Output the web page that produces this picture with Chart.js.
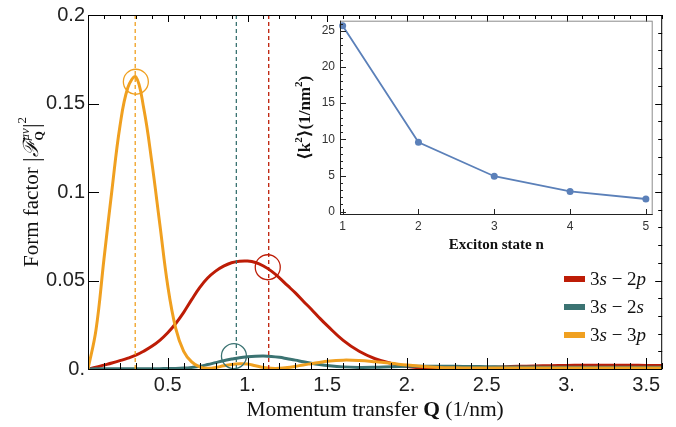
<!DOCTYPE html>
<html>
<head>
<meta charset="utf-8">
<script src="https://cdn.jsdelivr.net/npm/chart.js@4.4.0/dist/chart.umd.min.js"></script>
<style>
  body { margin: 0; background: #fff; }
  #wrap { position: relative; width: 676px; height: 427px; }
  #main { position: absolute; left: 0; top: 0; }
  #inset { position: absolute; left: 290px; top: 5px; }
</style>
</head>
<body>
<div id="wrap">
  <canvas id="main" width="676" height="427"></canvas>
  <canvas id="inset" width="380" height="255"></canvas>
</div>
<script>
// momentum transfer grid (1/nm)
const qGrid = [0, 0.05, 0.1, 0.15, 0.2, 0.25, 0.3, 0.35, 0.4, 0.45, 0.5, 0.55, 0.6, 0.65, 0.7, 0.75,
  0.8, 0.85, 0.9, 0.95, 1.0, 1.05, 1.1, 1.15, 1.2, 1.25, 1.3, 1.35, 1.4, 1.45, 1.5,
  1.6, 1.7, 1.8, 1.9, 2.0, 2.1, 2.2, 2.3, 2.4, 2.5, 2.6, 2.7, 2.8, 2.9, 3.0, 3.1, 3.2, 3.3, 3.4, 3.5, 3.6];

// form factor |F_Q|^2 for each transition
const ff3s2p = [0, 0.0010, 0.0022, 0.0034, 0.0047, 0.0061, 0.0078, 0.0101, 0.0128, 0.0162, 0.0205, 0.0257,
  0.0320, 0.0392, 0.0460, 0.0514, 0.0553, 0.0581, 0.0600, 0.0609, 0.0610, 0.0602, 0.0582, 0.0553, 0.0515,
  0.0472, 0.0430, 0.0383, 0.0338, 0.0290, 0.0245,
  0.0162, 0.0100, 0.0058, 0.0032, 0.0014, 0.0006, 0.0003, 0.0003, 0.0006, 0.0009, 0.0012, 0.0015, 0.0017,
  0.0019, 0.0020, 0.0021, 0.0021, 0.0021, 0.0021, 0.0020, 0.0020];
const ff3s2s = [0, 0.0001, 0.0001, 0.0002, 0.0002, 0.0002, 0.0002, 0.0002, 0.0002, 0.0002, 0.0003, 0.0003,
  0.0005, 0.0009, 0.0015, 0.0025, 0.0036, 0.0047, 0.0056, 0.0064, 0.0069, 0.0072, 0.0073, 0.0071, 0.0066,
  0.0058, 0.0050, 0.0041, 0.0033, 0.0026, 0.0020,
  0.0012, 0.0009, 0.0010, 0.0013, 0.0015, 0.0016, 0.0016, 0.0015, 0.0014, 0.0013, 0.0012, 0.0011, 0.0011,
  0.0010, 0.0010, 0.0010, 0.0010, 0.0010, 0.0010, 0.0010, 0.0010];
const ff3s3p = [0, 0.022, 0.062, 0.101, 0.137, 0.159, 0.165, 0.147, 0.117, 0.082, 0.047, 0.023,
  0.010, 0.004, 0.0012, 0.0004, 0.0008, 0.0018, 0.0026, 0.0030, 0.0028, 0.0018, 0.0009, 0.0004, 0.0004,
  0.0008, 0.0015, 0.0023, 0.0030, 0.0037, 0.0044,
  0.0050, 0.0048, 0.0041, 0.0032, 0.0022, 0.0014, 0.0009, 0.0007, 0.0006, 0.0006, 0.0006, 0.0006, 0.0006,
  0.0006, 0.0006, 0.0006, 0.0006, 0.0006, 0.0006, 0.0006, 0.0006];

// marked positions (dashed lines) and circled points
const markQ = [1.133, 0.93, 0.296];            // 3s-2p, 3s-2s, 3s-3p
const circleQ = [1.127, 0.915, 0.30];
const circleF = [0.0575, 0.0073, 0.1623];

const seriesNames = [["3", "s", " − ", "2", "p"], ["3", "s", " − ", "2", "s"], ["3", "s", " − ", "3", "p"]];
const colors = ["#bd1c06", "#3b7372", "#f0a020"];

// inset: <k^2> vs exciton state
const stateN = [1, 2, 3, 4, 5];
const k2 = [25.7, 9.6, 4.9, 2.8, 1.75];

const SERIF = '"Liberation Serif", "DejaVu Serif", serif';
const SANS = '"Liberation Sans", Arial, sans-serif';

function pts(xs, ys) { return xs.map((x, i) => ({ x: x, y: ys[i] })); }

// draw a run of text pieces; piece: {t, f, dy, stack}
function richWidth(ctx, pieces) {
  let w = 0, last = 0;
  pieces.forEach(p => {
    ctx.font = p.f;
    const pw = ctx.measureText(p.t).width;
    if (p.stack) { w += Math.max(0, pw - last); last = Math.max(pw, last); }
    else { w += pw; last = pw; }
  });
  return w;
}
function drawRich(ctx, pieces, x, y) {
  let cx = x, prevX = x, last = 0;
  pieces.forEach(p => {
    ctx.font = p.f;
    const pw = ctx.measureText(p.t).width;
    if (p.stack) {
      ctx.fillText(p.t, prevX, y + (p.dy || 0));
      cx = prevX + Math.max(pw, last);
      last = Math.max(pw, last);
    } else {
      ctx.fillText(p.t, cx, y + (p.dy || 0));
      prevX = cx; cx += pw; last = pw;
    }
  });
}
function drawRichCentered(ctx, pieces, x, y, rot) {
  ctx.save();
  ctx.translate(x, y);
  if (rot) ctx.rotate(rot);
  ctx.textAlign = 'left';
  ctx.textBaseline = 'alphabetic';
  drawRich(ctx, pieces, -richWidth(ctx, pieces) / 2, 0);
  ctx.restore();
}

function tickLine(ctx, x1, y1, x2, y2) { ctx.moveTo(x1, y1); ctx.lineTo(x2, y2); }

const mainDecor = {
  id: 'mainDecor',
  afterDatasetsDraw(chart) {
    const { ctx, chartArea: a, scales } = chart;
    ctx.save();
    ctx.strokeStyle = '#000';
    ctx.lineWidth = 1;
    ctx.strokeRect(a.left + 0.5, a.top + 0.5, a.right - a.left - 1, a.bottom - a.top);
    ctx.beginPath();
    for (let i = 1; i <= 36; i++) {
      const x = Math.round(scales.x.getPixelForValue(i / 10)) + 0.5;
      const major = i % 5 === 0;
      tickLine(ctx, x, a.bottom, x, a.bottom - (major ? 11 : 6));
      tickLine(ctx, x, a.top, x, a.top + (major ? 7 : 4));
    }
    for (let i = 1; i <= 20; i++) {
      const y = Math.round(scales.y.getPixelForValue(i / 100)) + 0.5;
      const major = i % 5 === 0;
      if (major) tickLine(ctx, a.left, y, a.left + 11, y);
      tickLine(ctx, a.right, y, a.right - (major ? 7 : 4), y);
    }
    ctx.stroke();
    ctx.restore();
  },
  afterDraw(chart) {
    const { ctx, chartArea: a } = chart;
    ctx.save();
    ctx.fillStyle = '#111';
    // axis titles
    const cx = (a.left + a.right) / 2;
    drawRichCentered(ctx, [
      { t: 'Momentum transfer ', f: '21.5px ' + SERIF },
      { t: 'Q', f: 'bold 21.5px ' + SERIF },
      { t: ' (1/nm)', f: '21.5px ' + SERIF }
    ], cx, 416);
    drawRichCentered(ctx, [
      { t: 'Form factor ', f: '21px ' + SERIF },
      { t: '|', f: '23px ' + SERIF, dy: 1 },
      { t: 'ℱ', f: 'italic 21px ' + SERIF },
      { t: 'μν', f: 'italic 13px ' + SERIF, dy: -9 },
      { t: 'Q', f: 'bold 12px ' + SERIF, dy: 5, stack: true },
      { t: '|', f: '23px ' + SERIF, dy: 1 },
      { t: '2', f: '13px ' + SERIF, dy: -12 }
    ], 38, (a.top + a.bottom) / 2, -Math.PI / 2);
    // legend
    const ly = [279, 307, 335];
    seriesNames.forEach((nm, i) => {
      ctx.fillStyle = colors[i];
      ctx.fillRect(564, ly[i] - 3, 21, 6);
      ctx.fillStyle = '#111';
      ctx.textAlign = 'left';
      ctx.textBaseline = 'alphabetic';
      drawRich(ctx, [
        { t: nm[0], f: '19px ' + SERIF },
        { t: nm[1], f: 'italic 19px ' + SERIF },
        { t: nm[2], f: '19px ' + SERIF },
        { t: nm[3], f: '19px ' + SERIF },
        { t: nm[4], f: 'italic 19px ' + SERIF }
      ], 590, ly[i] + 6);
    });
    ctx.restore();
  }
};

const curveSets = [ff3s2p, ff3s2s, ff3s3p].map((vals, i) => ({
  data: pts(qGrid, vals),
  borderColor: colors[i],
  borderWidth: 3,
  pointRadius: 0,
  tension: 0.4,
  fill: false,
  order: 3 - i
}));
const dashSets = markQ.map((q, i) => ({
  data: [{ x: q, y: 0 }, { x: q, y: 0.2 }],
  borderColor: colors[i],
  borderWidth: 1.3,
  borderDash: [4, 3],
  pointRadius: 0,
  fill: false,
  order: 0
}));
const circleSets = circleQ.map((q, i) => ({
  data: [{ x: q, y: circleF[i] }],
  showLine: false,
  pointRadius: 12.5,
  pointBorderWidth: 1.3,
  pointBorderColor: colors[i],
  pointBackgroundColor: 'rgba(0,0,0,0)',
  order: 0,
  clip: false
}));

new Chart(document.getElementById('main'), {
  type: 'line',
  data: { datasets: [...dashSets, ...circleSets, ...curveSets] },
  options: {
    responsive: false,
    animation: false,
    events: [],
    layout: { padding: { top: 15, right: 11, left: 0, bottom: 0 } },
    plugins: { legend: { display: false }, tooltip: { enabled: false } },
    scales: {
      x: {
        type: 'linear', min: 0, max: 3.6,
        afterFit: s => { s.height = 58; },
        grid: { display: false, drawTicks: false },
        border: { display: false },
        ticks: {
          stepSize: 0.5, includeBounds: false, padding: 4, autoSkip: false, maxRotation: 0,
          color: '#222', font: { family: SANS, size: 20 },
          callback: v => v === 0 ? null : (Number.isInteger(v) ? v + '.' : String(v))
        }
      },
      y: {
        min: 0, max: 0.2,
        afterFit: s => { s.width = 88; },
        grid: { display: false, drawTicks: false },
        border: { display: false },
        ticks: {
          stepSize: 0.05, includeBounds: false, padding: 3,
          color: '#222', font: { family: SANS, size: 20 },
          callback: v => { const r = Math.round(v * 100) / 100; return r === 0 ? '0.' : String(r); }
        }
      }
    }
  },
  plugins: [mainDecor]
});

const insetDecor = {
  id: 'insetDecor',
  afterDatasetsDraw(chart) {
    const { ctx, chartArea: a, scales } = chart;
    ctx.save();
    ctx.lineWidth = 1;
    ctx.strokeStyle = '#8c8c8c';
    ctx.strokeRect(a.left + 0.5, a.top + 0.5, a.right - a.left - 1, a.bottom - a.top - 1);
    ctx.strokeStyle = '#222';
    ctx.beginPath();
    tickLine(ctx, a.left + 0.5, a.top, a.left + 0.5, a.bottom);
    tickLine(ctx, a.left, a.bottom - 0.5, a.right, a.bottom - 0.5);
    for (let i = 0; i <= 26; i++) {
      const y = Math.round(scales.y.getPixelForValue(i)) + 0.5;
      tickLine(ctx, a.left, y, a.left + (i % 5 === 0 ? 6 : 3), y);
    }
    stateN.forEach(n => {
      const x = Math.round(scales.x.getPixelForValue(n)) + 0.5;
      tickLine(ctx, x, a.bottom, x, a.bottom - 6);
    });
    ctx.stroke();
    ctx.restore();
  },
  afterDraw(chart) {
    const { ctx, chartArea: a } = chart;
    ctx.save();
    ctx.fillStyle = '#111';
    drawRichCentered(ctx, [{ t: 'Exciton state n', f: 'bold 15px ' + SERIF }], (a.left + a.right) / 2, 244);
    drawRichCentered(ctx, [
      { t: '⟨k', f: 'bold 17px ' + SERIF },
      { t: '2', f: 'bold 11px ' + SERIF, dy: -8 },
      { t: '⟩(1/nm', f: 'bold 17px ' + SERIF },
      { t: '2', f: 'bold 11px ' + SERIF, dy: -8 },
      { t: ')', f: 'bold 17px ' + SERIF }
    ], 20, (a.top + a.bottom) / 2, -Math.PI / 2);
    ctx.restore();
  }
};

new Chart(document.getElementById('inset'), {
  type: 'line',
  data: {
    datasets: [{
      data: pts(stateN, k2),
      borderColor: '#5b80b9',
      backgroundColor: '#5b80b9',
      borderWidth: 1.8,
      pointRadius: 3.5,
      pointBorderWidth: 0,
      tension: 0,
      clip: false
    }]
  },
  options: {
    responsive: false,
    animation: false,
    events: [],
    layout: { padding: { top: 15.7, right: 17.3, left: 0, bottom: 0 } },
    plugins: { legend: { display: false }, tooltip: { enabled: false } },
    scales: {
      x: {
        type: 'linear', min: 0.965, max: 5.09,
        afterFit: s => { s.height = 45; },
        grid: { display: false, drawTicks: false },
        border: { display: false },
        ticks: {
          stepSize: 1, includeBounds: false, padding: 4, maxRotation: 0,
          color: '#333', font: { family: SANS, size: 12 },
          callback: v => Number.isInteger(v) ? String(v) : null
        }
      },
      y: {
        min: -0.46, max: 26.4,
        afterFit: s => { s.width = 50; },
        grid: { display: false, drawTicks: false },
        border: { display: false },
        ticks: {
          stepSize: 5, includeBounds: false, padding: 5,
          color: '#333', font: { family: SANS, size: 12 },
          callback: v => Number.isInteger(v) ? String(v) : null
        }
      }
    }
  },
  plugins: [insetDecor]
});
</script>
</body>
</html>
